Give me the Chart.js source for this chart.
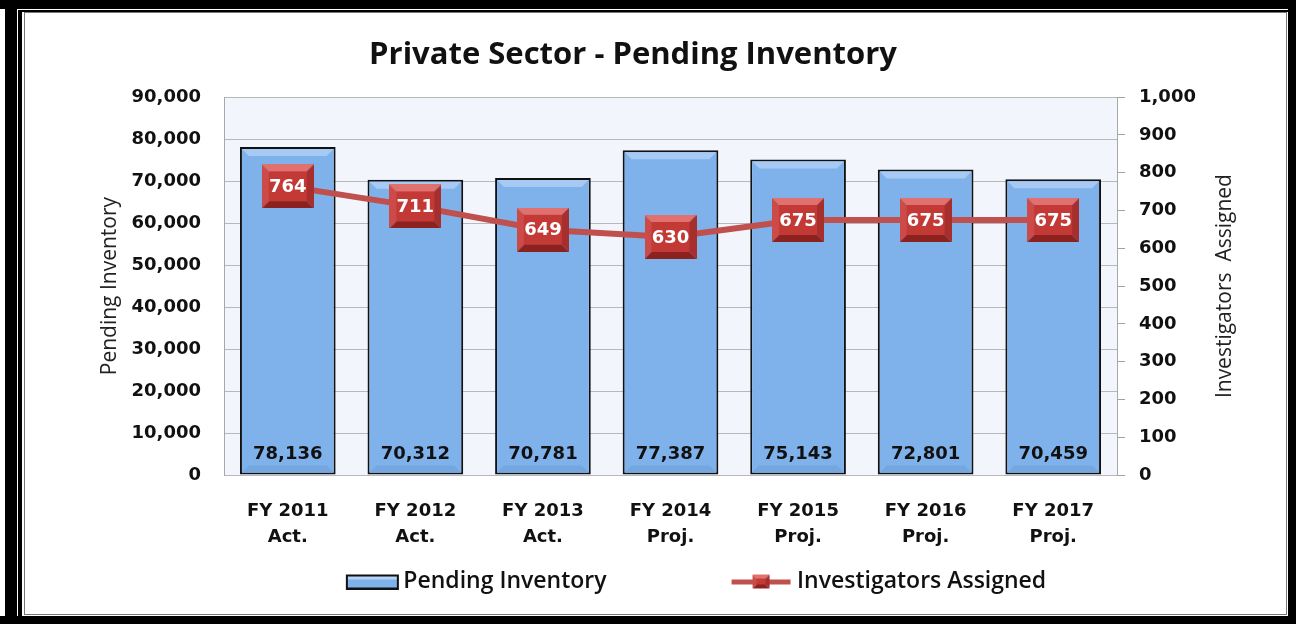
<!DOCTYPE html>
<html lang="en">
<head>
    <meta charset="UTF-8">
    <title>Private Sector - Pending Inventory</title>
    <style>
        body { margin: 0; background: #fff; }
        canvas { display: block; }
    </style>
    <script src="https://cdn.jsdelivr.net/npm/chart.js"></script>
</head>
<body>
    <canvas id="chart" width="1296" height="624"></canvas>

    <script>
        // Data
        const categories = [
            ['FY 2011', 'Act.'], ['FY 2012', 'Act.'], ['FY 2013', 'Act.'],
            ['FY 2014', 'Proj.'], ['FY 2015', 'Proj.'], ['FY 2016', 'Proj.'], ['FY 2017', 'Proj.']
        ];
        const pendingInventory = [78136, 70312, 70781, 77387, 75143, 72801, 70459];
        const investigatorsAssigned = [764, 711, 649, 630, 675, 675, 675];
        const inventoryTicks = { min: 0, max: 90000, step: 10000 };
        const investigatorTicks = { min: 0, max: 1000, step: 100 };

        const BAR_BLUE = '#7FB1EB';
        const LINE_RED = '#C0504D';
        const TICK_FONT = { family: '"DejaVu Sans", Verdana, sans-serif', size: 18, weight: 'bold' };

        // beveled red square used as the line marker
        function makeMarker(w, h, bevel) {
            const c = document.createElement('canvas');
            c.width = w;
            c.height = h;
            const g = c.getContext('2d');
            const face = (pts, color) => {
                g.beginPath();
                g.moveTo(pts[0][0], pts[0][1]);
                pts.slice(1).forEach(p => g.lineTo(p[0], p[1]));
                g.closePath();
                g.fillStyle = color;
                g.fill();
            };
            face([[0, 0], [w, 0], [w - bevel, bevel], [bevel, bevel]], '#E0716E');
            face([[0, 0], [bevel, bevel], [bevel, h - bevel], [0, h]], '#CC4A47');
            face([[w, 0], [w, h], [w - bevel, h - bevel], [w - bevel, bevel]], '#A62E2C');
            face([[0, h], [bevel, h - bevel], [w - bevel, h - bevel], [w, h]], '#8C2220');
            g.fillStyle = '#C33936';
            g.fillRect(bevel, bevel, w - 2 * bevel, h - 2 * bevel);
            return c;
        }

        const marker = makeMarker(52, 44, 7);

        // legend icons: the box is LEGEND_BOX wide, the icon canvas overhangs it by 8px each side
        const LEGEND_BOX = 172;
        const ICON_W = LEGEND_BOX + 16;
        function legendBarIcon() {
            const c = document.createElement('canvas');
            c.width = ICON_W; c.height = 16;
            const g = c.getContext('2d');
            const x = ICON_W - 54;
            g.fillStyle = '#111';
            g.fillRect(x, 1, 53, 15);
            g.fillStyle = BAR_BLUE;
            g.fillRect(x + 2, 3, 49, 11);
            g.fillStyle = '#B5D4F7';
            g.fillRect(x + 2, 3, 49, 3);
            return c;
        }
        function legendLineIcon() {
            const c = document.createElement('canvas');
            c.width = ICON_W; c.height = 16;
            const g = c.getContext('2d');
            g.fillStyle = LINE_RED;
            g.fillRect(ICON_W - 62, 6, 59, 5);
            const m = makeMarker(17, 14, 4);
            g.drawImage(m, ICON_W - 33 - 8, 1);
            return c;
        }
        const legendIcons = [legendBarIcon(), legendLineIcon()];

        const framePlugin = {
            id: 'frame',
            beforeDraw(chart) {
                const { ctx, width, height, chartArea: a } = chart;
                ctx.save();
                ctx.fillStyle = '#fff';
                ctx.fillRect(0, 0, width, height);
                ctx.fillStyle = '#000';
                ctx.fillRect(5, 0, 12, height);
                ctx.fillRect(18, 10, 4, height - 10);
                ctx.fillRect(0, 0, width, 9);
                ctx.fillRect(18, 10, width - 18, 2);
                ctx.fillRect(1288, 0, 8, height);
                ctx.fillRect(0, 616, width, 8);
                ctx.strokeStyle = '#777';
                ctx.lineWidth = 1;
                ctx.strokeRect(24.5, 12.5, 1262, 602);
                ctx.fillStyle = '#F2F6FC';
                ctx.fillRect(a.left, a.top, a.right - a.left, a.bottom - a.top);
                ctx.restore();
            }
        };

        const barBevelPlugin = {
            id: 'barBevel',
            afterDatasetDraw(chart, args) {
                if (args.index !== 0) return;
                const ctx = chart.ctx;
                ctx.save();
                args.meta.data.forEach(b => {
                    const l = b.x - b.width / 2 + 2, r = b.x + b.width / 2 - 2;
                    const t = b.y + 2, btm = b.base - 2, e = 7;
                    ctx.fillStyle = '#A6CAF4';
                    ctx.beginPath();
                    ctx.moveTo(l, t); ctx.lineTo(r, t); ctx.lineTo(r - e, t + e); ctx.lineTo(l + e, t + e);
                    ctx.closePath(); ctx.fill();
                    ctx.fillStyle = '#74A6E0';
                    ctx.beginPath();
                    ctx.moveTo(l, btm); ctx.lineTo(r, btm); ctx.lineTo(r - e, btm - e); ctx.lineTo(l + e, btm - e);
                    ctx.closePath(); ctx.fill();
                });
                ctx.restore();
            }
        };

        const labelPlugin = {
            id: 'valueLabels',
            afterDatasetsDraw(chart) {
                const ctx = chart.ctx;
                ctx.save();
                ctx.textAlign = 'center';
                ctx.textBaseline = 'middle';
                ctx.font = 'bold 18px "DejaVu Sans", Verdana, sans-serif';
                ctx.fillStyle = '#111';
                chart.getDatasetMeta(0).data.forEach((b, i) => {
                    ctx.fillText(pendingInventory[i].toLocaleString('en-US'), b.x, b.base - 20);
                });
                ctx.font = 'bold 18px "DejaVu Sans", Verdana, sans-serif';
                ctx.fillStyle = '#fff';
                chart.getDatasetMeta(1).data.forEach((p, i) => {
                    ctx.fillText(String(investigatorsAssigned[i]), p.x, p.y + 1);
                });
                ctx.restore();
            },
            afterDraw(chart) {
                const { ctx, chartArea: a, scales } = chart;
                const cy = (a.top + a.bottom) / 2;
                ctx.save();
                ctx.font = '21px "Open Sans", sans-serif';
                ctx.fillStyle = '#222';
                ctx.textAlign = 'center';
                ctx.textBaseline = 'middle';
                [[scales.y.left + 110, 'Pending Inventory'], [scales.y1.right - 41, 'Investigators  Assigned']].forEach(([x, t]) => {
                    ctx.save();
                    ctx.translate(x, cy);
                    ctx.rotate(-Math.PI / 2);
                    ctx.fillText(t, 0, 0);
                    ctx.restore();
                });
                ctx.restore();
            }
        };

        new Chart(document.getElementById('chart'), {
            data: {
                labels: categories,
                datasets: [
                    {
                        type: 'bar',
                        label: 'Pending Inventory',
                        data: pendingInventory,
                        yAxisID: 'y',
                        backgroundColor: BAR_BLUE,
                        borderColor: '#111',
                        borderWidth: 2,
                        borderSkipped: false,
                        barPercentage: 0.75,
                        categoryPercentage: 1,
                        order: 1
                    },
                    {
                        type: 'line',
                        label: 'Investigators Assigned',
                        data: investigatorsAssigned,
                        yAxisID: 'y1',
                        borderColor: LINE_RED,
                        borderWidth: 6,
                        pointStyle: marker,
                        pointRadius: 10,
                        tension: 0,
                        order: 0
                    }
                ]
            },
            options: {
                responsive: false,
                devicePixelRatio: 1,
                animation: false,
                events: [],
                layout: { padding: { left: 0, right: 30, top: 0, bottom: 21 } },
                scales: {
                    x: {
                        grid: { display: false },
                        border: { display: false },
                        ticks: {
                            font: { ...TICK_FONT, lineHeight: 26 / 18 },
                            color: '#111',
                            padding: 15,
                            maxRotation: 0,
                            autoSkip: false
                        },
                        afterFit(scale) { scale.height = 88; }
                    },
                    y: {
                        position: 'left',
                        min: inventoryTicks.min,
                        max: inventoryTicks.max,
                        grid: { color: '#B8B8B8', drawTicks: false },
                        border: { color: '#A8A8A8' },
                        ticks: {
                            stepSize: inventoryTicks.step,
                            font: TICK_FONT,
                            color: '#111',
                            padding: 23,
                            callback: v => v.toLocaleString('en-US')
                        },
                        afterFit(scale) { scale.width = 224; }
                    },
                    y1: {
                        position: 'right',
                        min: investigatorTicks.min,
                        max: investigatorTicks.max,
                        grid: { drawOnChartArea: false, color: '#A0A0A0', tickLength: 8 },
                        border: { color: '#A8A8A8' },
                        ticks: {
                            stepSize: investigatorTicks.step,
                            font: TICK_FONT,
                            color: '#111',
                            padding: 14,
                            callback: v => v.toLocaleString('en-US')
                        },
                        afterFit(scale) { scale.width = 149; }
                    }
                },
                plugins: {
                    title: {
                        display: true,
                        text: 'Private Sector - Pending Inventory',
                        color: '#111',
                        font: { family: '"Open Sans", sans-serif', size: 31, weight: 'bold', lineHeight: 1.2 },
                        padding: { top: 37, bottom: 23 }
                    },
                    legend: {
                        position: 'bottom',
                        labels: {
                            usePointStyle: true,
                            pointStyleWidth: LEGEND_BOX,
                            padding: 7,
                            color: '#111',
                            font: { family: '"Open Sans", sans-serif', size: 23, weight: '600' },
                            generateLabels: chart => chart.data.datasets.map((ds, i) => ({
                                text: ds.label,
                                pointStyle: legendIcons[i],
                                datasetIndex: i,
                                hidden: false,
                                fontColor: '#111',
                                fillStyle: 'transparent',
                                strokeStyle: 'transparent',
                                lineWidth: 0
                            }))
                        }
                    },
                    tooltip: { enabled: false }
                }
            },
            plugins: [framePlugin, barBevelPlugin, labelPlugin]
        });
    </script>
</body>
</html>
